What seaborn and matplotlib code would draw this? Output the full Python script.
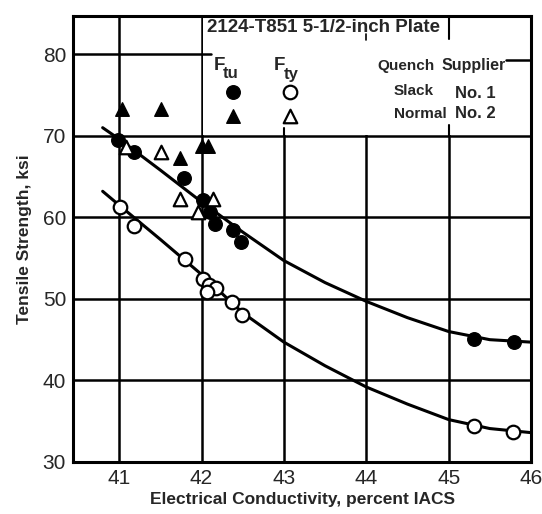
import matplotlib
matplotlib.use("Agg")
import matplotlib.pyplot as plt
import seaborn as sns
from matplotlib.patches import Rectangle

# values
ftu_slack_x = [40.99, 41.18, 41.79, 42.02, 42.10, 42.16, 42.38, 42.48, 45.31, 45.79]
ftu_slack_y = [69.5, 68.0, 64.8, 62.1, 60.6, 59.2, 58.5, 57.0, 45.1, 44.7]
ftu_normal_x = [41.03, 41.51, 41.74, 42.01, 42.08]
ftu_normal_y = [73.3, 73.3, 67.3, 68.7, 68.7]
fty_slack_x = [41.01, 41.18, 41.80, 42.02, 42.09, 42.18, 42.07, 42.37, 42.49, 45.31, 45.78]
fty_slack_y = [61.3, 59.0, 54.9, 52.4, 51.7, 51.3, 50.8, 49.6, 48.0, 34.4, 33.7]
fty_normal_x = [41.08, 41.51, 41.74, 41.96, 42.14]
fty_normal_y = [68.6, 68.0, 62.3, 60.6, 62.3]

# fitted curves as drawn in the chart
curve_x = [40.8, 41.0, 41.5, 42.0, 42.5, 43.0, 43.5, 44.0, 44.5, 45.0, 45.5, 46.0]
ftu_curve = [71.0, 69.6, 65.8, 61.9, 58.2, 54.7, 52.0, 49.7, 47.7, 46.0, 45.0, 44.7]
fty_curve = [63.2, 61.5, 57.3, 53.0, 48.3, 44.7, 41.8, 39.2, 37.1, 35.2, 34.1, 33.6]

x_ticks = [41, 42, 43, 44, 45, 46]
y_ticks = [30, 40, 50, 60, 70, 80]

sns.set_style("white")
plt.rcParams["font.family"] = ["Liberation Sans", "DejaVu Sans"]

fig = plt.figure(figsize=(5.42, 5.14), dpi=100)
ax = fig.add_axes([0.1347, 0.1012, 0.845, 0.8677])

# grid
for xv in x_ticks:
    ax.axvline(xv, color="black", lw=1.8, zorder=0.5)
for yv in y_ticks:
    ax.axhline(yv, color="black", lw=1.8, zorder=0.5)

# white area for the key
ax.add_patch(Rectangle((42.02, 70.15), 3.98, 15, facecolor="white", edgecolor="none", zorder=1))
# leftover grid stubs in the key area
ax.plot([42.0, 42.12], [80, 80], color="black", lw=1.8, zorder=1.1)
ax.plot([45.7, 46.0], [79.3, 79.3], color="black", lw=1.8, zorder=1.1)
ax.plot([45.0, 45.0], [81.9, 85], color="black", lw=1.5, zorder=1.1)
ax.plot([44.0, 44.0], [81.7, 82.5], color="black", lw=1.2, zorder=1.1)
ax.plot([43.0, 43.0], [70, 71.0], color="black", lw=1.5, zorder=1.1)
ax.plot([45.0, 45.0], [70, 71.3], color="black", lw=1.5, zorder=1.1)

sns.lineplot(x=curve_x, y=ftu_curve, color="black", lw=2.2, ax=ax, zorder=2)
sns.lineplot(x=curve_x, y=fty_curve, color="black", lw=2.2, ax=ax, zorder=2)

ms = 95
sns.scatterplot(x=ftu_slack_x, y=ftu_slack_y, marker="o", s=ms, color="black",
                edgecolor="black", linewidth=1, ax=ax, zorder=3)
sns.scatterplot(x=ftu_normal_x, y=ftu_normal_y, marker="^", s=ms, color="black",
                edgecolor="black", linewidth=1, ax=ax, zorder=3)
sns.scatterplot(x=fty_slack_x, y=fty_slack_y, marker="o", s=ms, color="white",
                edgecolor="black", linewidth=1.6, ax=ax, zorder=3)
sns.scatterplot(x=fty_normal_x, y=fty_normal_y, marker="^", s=ms, color="white",
                edgecolor="black", linewidth=1.6, ax=ax, zorder=3)

ax.set_xlim(40.44, 46.0)
ax.set_ylim(30, 84.7)
ax.set_xticks(x_ticks)
ax.set_yticks(y_ticks)
ax.tick_params(length=0, labelsize=15, pad=5)
for sp in ax.spines.values():
    sp.set_linewidth(2.2)
    sp.set_color("black")
    sp.set_zorder(4)

ax.set_xlabel("Electrical Conductivity, percent IACS", fontsize=12.5, fontweight="bold", labelpad=3)
ax.set_ylabel("Tensile Strength, ksi", fontsize=12.5, fontweight="bold", labelpad=8)

# key
t = ax.transAxes
kw = dict(transform=t, fontweight="bold", va="center", zorder=5)
ax.text(0.2926, 0.975, "2124-T851 5-1/2-inch Plate", fontsize=13.5, ha="left", **kw)
ax.text(0.319, 0.888, "F", fontsize=13.5, ha="center", **kw)
ax.text(0.328, 0.870, "tu", fontsize=12, ha="left", **kw)
ax.text(0.450, 0.888, "F", fontsize=13.5, ha="center", **kw)
ax.text(0.461, 0.868, "ty", fontsize=12, ha="left", **kw)
ax.text(0.726, 0.888, "Quench", fontsize=11, ha="center", **kw)
ax.text(0.874, 0.888, "Supplier", fontsize=11.5, ha="center", **kw)
ax.text(0.700, 0.832, "Slack", fontsize=11, ha="left", **kw)
ax.text(0.700, 0.781, "Normal", fontsize=11, ha="left", **kw)
ax.text(0.834, 0.826, "No. 1", fontsize=12, ha="left", **kw)
ax.text(0.834, 0.781, "No. 2", fontsize=12, ha="left", **kw)
ax.scatter([0.349], [0.830], marker="o", s=ms, color="black", transform=t, zorder=5)
ax.scatter([0.349], [0.776], marker="^", s=ms, color="black", transform=t, zorder=5)
ax.scatter([0.474], [0.830], marker="o", s=ms, facecolor="white", edgecolor="black", linewidth=1.6,
           transform=t, zorder=5)
ax.scatter([0.474], [0.776], marker="^", s=ms, facecolor="white", edgecolor="black", linewidth=1.6,
           transform=t, zorder=5)

fig.savefig("out.png", dpi=100)
